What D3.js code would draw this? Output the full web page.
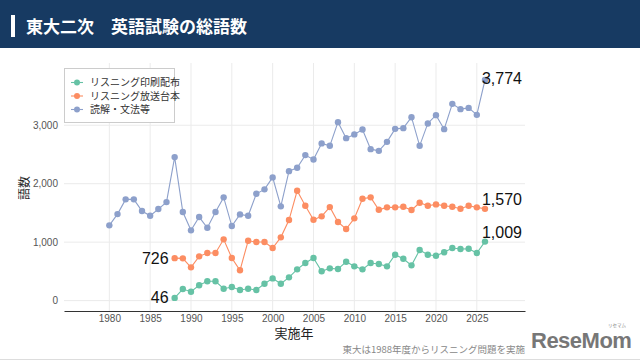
<!DOCTYPE html>
<html><head><meta charset="utf-8">
<script src="https://cdn.jsdelivr.net/npm/d3@7"></script>
<style>
html,body{margin:0;padding:0;background:#fff;}
svg{display:block;font-family:"Noto Sans CJK JP","Liberation Sans",Arial,sans-serif;}
</style></head>
<body><svg id="c" width="640" height="361"></svg>
<script>
const title = "東大二次　英語試験の総語数";
const seriesNames = ["リスニング印刷配布", "リスニング放送台本", "読解・文法等"];
const colors = ["#66c2a5", "#fc8d62", "#8da0cb"];
const yearsReading = d3.range(1980, 2027);
const yearsListening = d3.range(1988, 2027);
const printed = [46,198,152,262,330,330,203,232,181,203,181,289,380,289,398,535,643,728,501,552,540,665,586,535,643,626,586,785,716,603,865,785,768,826,899,882,887,814,1009];
const script = [726,723,569,757,814,814,1048,728,518,1024,1002,1002,899,1082,1378,1879,1622,1383,1441,1600,1344,1224,1407,1742,1766,1554,1595,1595,1605,1549,1674,1622,1646,1622,1605,1571,1622,1595,1570];
const reading = [1287,1480,1732,1732,1532,1451,1566,1685,2455,1515,1202,1429,1246,1515,1766,1275,1475,1451,1827,1903,2108,1612,2215,2272,2489,2415,2689,2648,3053,2779,2843,2928,2591,2562,2716,2938,2950,3138,2648,3031,3173,2933,3366,3275,3297,3178,3774];
const xTicks = [1980,1985,1990,1995,2000,2005,2010,2015,2020,2025];
const yTicks = [0,1000,2000,3000];
const xTitle = "実施年";
const yTitle = "語数";
const note = "東大は1988年度からリスニング問題を実施";

const SANS = "'Liberation Sans',Arial,sans-serif";
const svg = d3.select("#c");
// header
svg.append("rect").attr("x",0).attr("y",0).attr("width",640).attr("height",48).attr("fill","#173a62");
svg.append("rect").attr("x",11).attr("y",15).attr("width",4).attr("height",22).attr("fill","#fff");
svg.append("text").attr("x",26).attr("y",32.5).attr("fill","#fff").attr("font-size",17).attr("font-weight","bold").text(title);

const x = d3.scaleLinear().domain([1974.45, 2030.9]).range([64, 525]);
const y = d3.scaleLinear().domain([0, 3774]).range([300.6, 80.0]);

const g = svg.append("g");
// grid
g.selectAll(".vg").data(xTicks).join("line").attr("x1",d=>x(d)).attr("x2",d=>x(d)).attr("y1",63).attr("y2",311).attr("stroke","#ebebeb").attr("stroke-width",1);
g.selectAll(".hg").data(yTicks).join("line").attr("x1",64).attr("x2",525).attr("y1",d=>y(d)).attr("y2",d=>y(d)).attr("stroke","#ebebeb").attr("stroke-width",1);

// axes
const xAxis = d3.axisBottom(x).tickValues(xTicks).tickFormat(d3.format("d")).tickSize(0).tickPadding(4);
const xg = svg.append("g").attr("transform","translate(0,311)").call(xAxis);
xg.select(".domain").attr("stroke","#333").attr("stroke-width",1.2);
xg.selectAll("text").attr("font-size",10).attr("fill","#555").style("font-family",SANS);
const yAxis = d3.axisLeft(y).tickValues(yTicks).tickFormat(d3.format(",")).tickSize(0).tickPadding(3);
const yg = svg.append("g").attr("transform","translate(61,0)").call(yAxis);
yg.select(".domain").remove();
yg.selectAll("text").attr("font-size",10).attr("fill","#555").style("font-family",SANS);

svg.append("text").attr("x",294).attr("y",338).attr("text-anchor","middle").attr("font-size",13).attr("fill","#222").text(xTitle);
svg.append("text").attr("transform","translate(29,188) rotate(-90)").attr("text-anchor","middle").attr("font-size",12).attr("fill","#222").text(yTitle);

// series
const data = [
  {name:seriesNames[0], c:colors[0], pts: yearsListening.map((yr,i)=>({yr, v:printed[i]}))},
  {name:seriesNames[1], c:colors[1], pts: yearsListening.map((yr,i)=>({yr, v:script[i]}))},
  {name:seriesNames[2], c:colors[2], pts: yearsReading.map((yr,i)=>({yr, v:reading[i]}))}
];
const line = d3.line().x(d=>x(d.yr)).y(d=>y(d.v));
data.forEach(s=>{
  g.append("path").attr("d",line(s.pts)).attr("fill","none").attr("stroke",s.c).attr("stroke-width",1.1);
  g.selectAll(null).data(s.pts).join("circle").attr("cx",d=>x(d.yr)).attr("cy",d=>y(d.v)).attr("r",3.2).attr("fill",s.c);
});

// value labels
const fmt = d3.format(",");
const lab = (txt, px, py, anchor) => svg.append("text").attr("x",px).attr("y",py).attr("text-anchor",anchor).attr("font-size",16).attr("fill","#111").style("font-family",SANS).text(txt);
const first = (arr)=>arr[0], last=(arr)=>arr[arr.length-1];
lab(fmt(first(printed)), x(1988)-6, y(first(printed))+5.5, "end");
lab(fmt(first(script)), x(1988)-6, y(first(script))+5.5, "end");
lab(fmt(last(printed)), x(2026)-3, y(last(printed))-3.5, "start");
lab(fmt(last(script)), x(2026)-3, y(last(script))-3.5, "start");
lab(fmt(last(reading)), x(2026)-3, y(last(reading))+4, "start");

// legend
const lg = svg.append("g");
lg.append("rect").attr("x",64.5).attr("y",68.5).attr("width",110).attr("height",54).attr("fill","#fff").attr("stroke","#ccc").attr("stroke-width",1);
seriesNames.forEach((n,i)=>{
  const yy = 82.5 + i*13.5;
  lg.append("line").attr("x1",71).attr("x2",83).attr("y1",yy).attr("y2",yy).attr("stroke",colors[i]).attr("stroke-width",1.1);
  lg.append("circle").attr("cx",77).attr("cy",yy).attr("r",3).attr("fill",colors[i]);
  lg.append("text").attr("x",90).attr("y",yy+3.5).attr("font-size",10).attr("fill","#333").text(n);
});

// footnote
svg.append("text").attr("x",525).attr("y",353).attr("text-anchor","end").attr("font-size",9.5).attr("fill","#888").text(note);
// logo
svg.append("text").attr("x",531).attr("y",348).attr("font-size",22).attr("font-weight","bold").attr("fill","#777").style("font-family",SANS).attr("letter-spacing",-0.5).text("ReseMom");
svg.append("text").attr("x",608).attr("y",327).attr("font-size",4.5).attr("fill","#888").text("リセマム");
svg.append("line").attr("x1",0).attr("x2",640).attr("y1",359.5).attr("y2",359.5).attr("stroke","#ddd").attr("stroke-width",1);
</script></body></html>
